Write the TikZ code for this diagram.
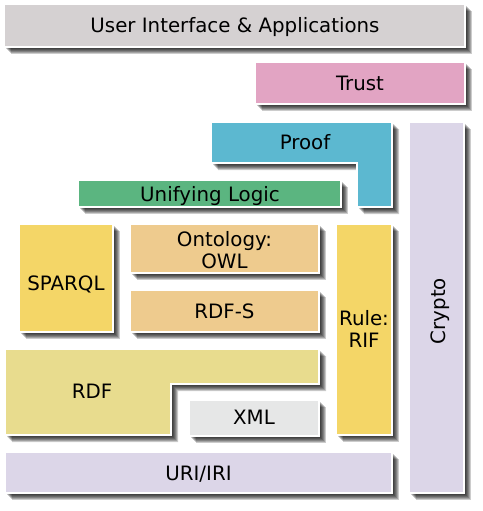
\documentclass[tikz,border=0pt]{standalone}
\usepackage{fontspec}
\setmainfont{DejaVu Sans}
\definecolor{cui}{HTML}{D5D1D2}
\definecolor{ctrust}{HTML}{E2A4C3}
\definecolor{cproof}{HTML}{5CB8D0}
\definecolor{ccrypto}{HTML}{DCD6E8}
\definecolor{clogic}{HTML}{5BB580}
\definecolor{cyellow}{HTML}{F4D667}
\definecolor{ctan}{HTML}{EECB8E}
\definecolor{crdf}{HTML}{E8DC8E}
\definecolor{cxml}{HTML}{E6E7E7}
\newcommand\slab[2]{%
  \foreach \s in {2,3,4,5,6,7}{\fill[black,opacity=0.2,shift={(\s,\s)}] #2;}%
  \filldraw[fill=#1,draw=white,line width=1.6] #2;}
\tikzset{lbl/.style={font=\fontsize{19.8}{22}\selectfont,align=center,text=black,inner sep=0,anchor=base}}
\begin{document}
\begin{tikzpicture}[x=1pt,y=-1pt]
\useasboundingbox[fill=white] (0,0) rectangle (482,511);
\slab{cui}{(4,4) rectangle (465,47)}
\slab{ctrust}{(255,62) rectangle (465,104)}
\slab{cproof}{(211,122) -- (392,122) -- (392,207) -- (357,207) -- (357,163) -- (211,163) -- cycle}
\slab{ccrypto}{(409,122) rectangle (464,493)}
\slab{clogic}{(78,180) rectangle (341,207)}
\slab{cyellow}{(19,224) rectangle (113,332)}
\slab{ctan}{(130,224) rectangle (319,273)}
\slab{ctan}{(130,290) rectangle (319,332)}
\slab{cyellow}{(336,224) rectangle (392,435)}
\slab{crdf}{(5,349) -- (319,349) -- (319,384) -- (171,384) -- (171,435) -- (5,435) -- cycle}
\slab{cxml}{(189,400) rectangle (319,436)}
\slab{ccrypto}{(5,452) rectangle (392,493)}
\node[lbl] (ui) at (235,32.3) {User Interface \& Applications};
\node[lbl] (trust) at (360,90.7) {Trust};
\node[lbl] (proof) at (305,149.3) {Proof};
\node[lbl,rotate=90] (crypto) at (445,311) {Crypto};
\node[lbl] (logic) at (210,201.7) {Unifying Logic};
\node[lbl] (sparql) at (66,290) {SPARQL};
\node[lbl] (owl) at (224.5,268.3) {Ontology:\\OWL};
\node[lbl] (rdfs) at (224.5,318.3) {RDF-S};
\node[lbl] (rif) at (364,347.7) {Rule:\\RIF};
\node[lbl] (rdf) at (92,398.3) {RDF};
\node[lbl] (xml) at (254,424.3) {XML};
\node[lbl] (uri) at (198.5,480) {URI/IRI};
\end{tikzpicture}
\end{document}
